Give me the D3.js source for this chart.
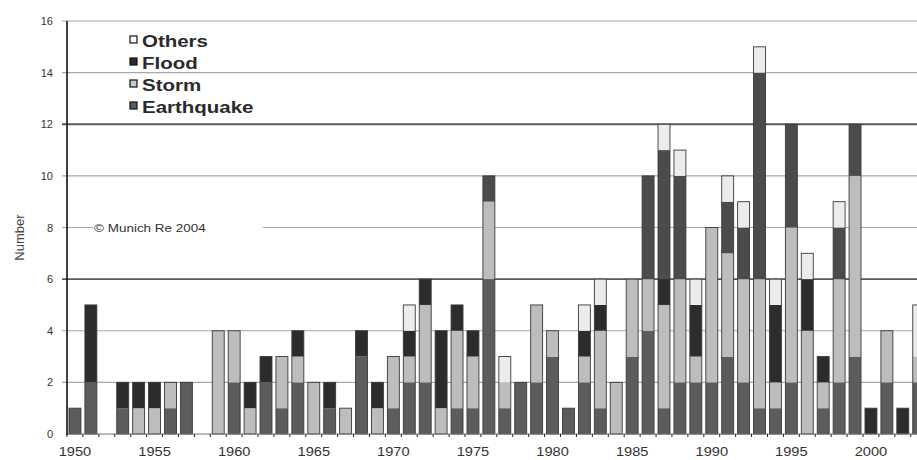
<!DOCTYPE html>
<html>
<head>
<meta charset="utf-8">
<script src="https://cdn.jsdelivr.net/npm/d3@7"></script>
<style>
  html, body { margin: 0; padding: 0; background: #fff; }
  svg { display: block; font-family: "Liberation Sans", Arial, sans-serif; }
</style>
</head>
<body>
<svg id="chart" width="917" height="460"></svg>
<script>
// Great natural catastrophes per year, 1950-2003, by type
const years = d3.range(1950, 2004);
const earthquake = [1,2,0,1,0,0,1,2,0,0, 2,0,2,1,2,0,1,0,3,0, 1,2,2,0,1,1,6,1,2,2, 3,1,2,1,0,3,4,1,2,2, 2,3,2,1,1,2,0,1,2,3, 0,2,0,2];
const storm      = [0,0,0,0,1,1,1,0,0,4, 2,1,0,2,1,2,0,1,0,1, 2,1,3,1,3,2,3,1,0,3, 1,0,1,3,2,3,2,4,4,1, 6,4,4,5,1,6,4,1,4,7, 0,2,0,1];
const flood      = [0,3,0,1,1,1,0,0,0,0, 0,1,1,0,1,0,1,0,1,1, 0,1,1,3,1,1,0,0,0,0, 0,0,1,1,0,0,0,1,0,2, 0,0,0,0,3,0,2,1,0,0, 1,0,1,0];
// upper dark band, stacked between flood and others, drawn in a deep grey without a legend key
const darkBand   = [0,0,0,0,0,0,0,0,0,0, 0,0,0,0,0,0,0,0,0,0, 0,0,0,0,0,0,1,0,0,0, 0,0,0,0,0,0,4,5,4,0, 0,2,2,8,0,4,0,0,2,2, 0,0,0,0];
const others     = [0,0,0,0,0,0,0,0,0,0, 0,0,0,0,0,0,0,0,0,0, 0,1,0,0,0,0,0,1,0,0, 0,0,1,1,0,0,0,1,1,1, 0,1,1,1,1,0,1,0,1,0, 0,0,0,2];
const yTicks = [0, 2, 4, 6, 8, 10, 12, 14, 16];
const yearLabels = [1950, 1955, 1960, 1965, 1970, 1975, 1980, 1985, 1990, 1995, 2000];
const legendItems = ["Others", "Flood", "Storm", "Earthquake"];

const keys = ["earthquake", "storm", "flood", "darkBand", "others"];
const fills = {
  earthquake: "#5c5c5c",
  storm: "#bdbdbd",
  flood: "#2c2c2c",
  darkBand: "#4b4b4b",
  others: "#ececec"
};
const legendFill = { Others: "#ffffff", Flood: "#2c2c2c", Storm: "#c8c8c8", Earthquake: "#5c5c5c" };

const rows = years.map((yr, i) => ({
  year: yr,
  earthquake: earthquake[i],
  storm: storm[i],
  flood: flood[i],
  darkBand: darkBand[i],
  others: others[i]
}));

const svg = d3.select("#chart");
const W = 917;
const plotLeft = 67, plotBottom = 434, plotTop = 21;
const step = 15.92;

const x = d3.scaleBand()
  .domain(years)
  .range([plotLeft, plotLeft + years.length * step])
  .paddingInner(0.25)
  .paddingOuter(0.125);

const y = d3.scaleLinear().domain([0, 16]).range([plotBottom, plotTop]);

// horizontal grid lines with ticks reaching left of the axis
svg.append("g").selectAll("line")
  .data(yTicks.filter(d => d > 0))
  .join("line")
  .attr("x1", plotLeft - 5)
  .attr("x2", W)
  .attr("y1", d => y(d))
  .attr("y2", d => y(d))
  .attr("stroke", d => (d % 6 === 0 ? "#5a5a5a" : "#a8a8a8"))
  .attr("stroke-width", d => (d % 6 === 0 ? 1.8 : 1.1));

// copyright note sits on a white box over the grid
const note = svg.append("g");
note.append("rect")
  .attr("x", 93).attr("y", y(8) - 7)
  .attr("width", 170).attr("height", 14)
  .attr("fill", "#fff");
note.append("text")
  .attr("transform", `translate(94,${y(8) + 4}) scale(1.35,1)`)
  .attr("font-size", 10)
  .attr("fill", "#333")
  .text("© Munich Re 2004");

// stacked bars
const stacked = d3.stack().keys(keys)(rows);
const barLayer = svg.append("g");
stacked.forEach(layer => {
  barLayer.append("g")
    .attr("fill", fills[layer.key])
    .selectAll("rect")
    .data(layer.filter(d => d[1] > d[0]))
    .join("rect")
    .attr("x", d => x(d.data.year))
    .attr("width", x.bandwidth())
    .attr("y", d => y(d[1]))
    .attr("height", d => y(d[0]) - y(d[1]));
});

// thin outline round each whole bar
const totals = rows.map(r => ({ year: r.year, total: d3.sum(keys, k => r[k]) }));
barLayer.append("g").selectAll("rect")
  .data(totals.filter(d => d.total > 0))
  .join("rect")
  .attr("x", d => x(d.year))
  .attr("width", x.bandwidth())
  .attr("y", d => y(d.total))
  .attr("height", d => y(0) - y(d.total))
  .attr("fill", "none")
  .attr("stroke", "#3a3a3a")
  .attr("stroke-width", 0.9);

// baseline and small ticks between the year bands
svg.append("line")
  .attr("x1", plotLeft).attr("x2", W)
  .attr("y1", plotBottom).attr("y2", plotBottom)
  .attr("stroke", "#777").attr("stroke-width", 1);
svg.append("g").selectAll("line")
  .data(years)
  .join("line")
  .attr("x1", d => x(d) - x.step() * 0.125)
  .attr("x2", d => x(d) - x.step() * 0.125)
  .attr("y1", plotBottom)
  .attr("y2", plotBottom + 3)
  .attr("stroke", "#222")
  .attr("stroke-width", 1);

// y axis
svg.append("line")
  .attr("x1", plotLeft).attr("x2", plotLeft)
  .attr("y1", plotTop).attr("y2", plotBottom + 1)
  .attr("stroke", "#111").attr("stroke-width", 1.6);
svg.append("g").selectAll("text")
  .data(yTicks)
  .join("text")
  .attr("x", 53)
  .attr("y", d => y(d) + 4)
  .attr("text-anchor", "end")
  .attr("font-size", 11)
  .attr("fill", "#333")
  .text(d => d);

// year labels
svg.append("g").selectAll("text")
  .data(yearLabels)
  .join("text")
  .attr("transform", d => `translate(${x(d) + x.bandwidth() / 2},${plotBottom + 22}) scale(1.22,1)`)
  .attr("text-anchor", "middle")
  .attr("font-size", 12)
  .attr("fill", "#333")
  .text(d => d);

// axis title
svg.append("text")
  .attr("transform", `translate(24,${(plotTop + plotBottom) / 2 + 10}) rotate(-90)`)
  .attr("text-anchor", "middle")
  .attr("font-size", 13)
  .attr("fill", "#444")
  .text("Number");

// legend
const legend = svg.append("g");
legendItems.forEach((name, i) => {
  const base = 47 + i * 22;
  legend.append("rect")
    .attr("x", 130).attr("y", base - 11)
    .attr("width", 7).attr("height", 7)
    .attr("fill", legendFill[name])
    .attr("stroke", "#111").attr("stroke-width", 1.2);
  legend.append("text")
    .attr("transform", `translate(142,${base}) scale(1.28,1)`)
    .attr("font-size", 16)
    .attr("font-weight", "bold")
    .attr("fill", "#2a2a2a")
    .text(name);
});
</script>
</body>
</html>
